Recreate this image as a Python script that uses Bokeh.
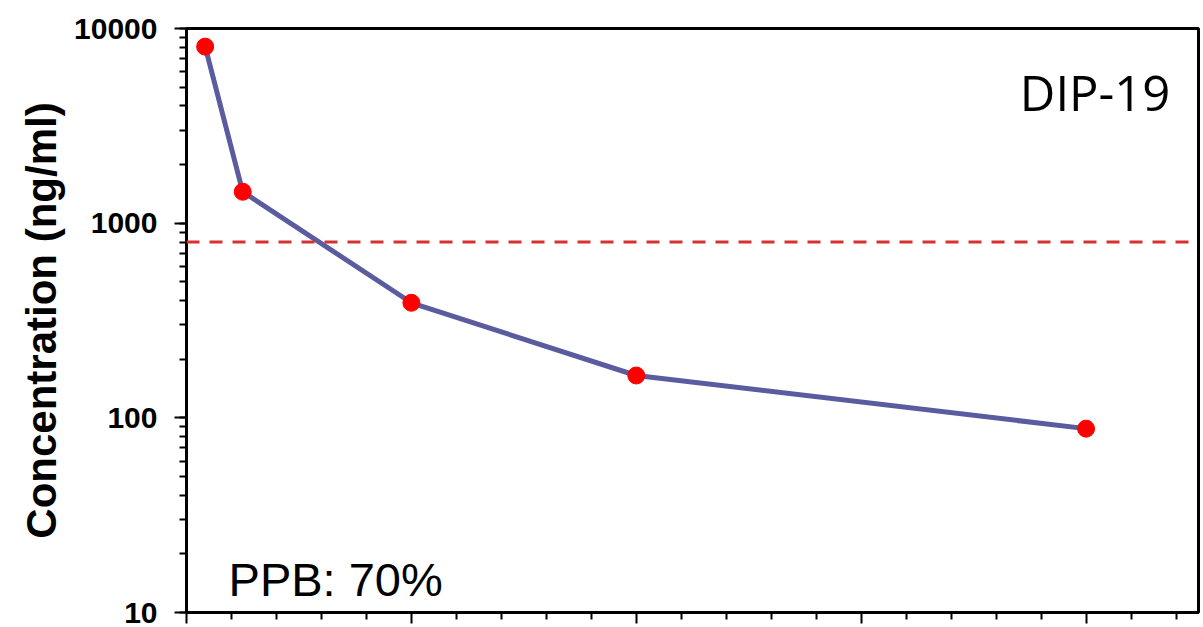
from bokeh.plotting import figure
from bokeh.models import FixedTicker, Span, Label, NumeralTickFormatter
from bokeh.embed import file_html
from bokeh.resources import INLINE

# Data
times_h = [0.083, 0.25, 1, 2, 4]
conc_ng_ml = [8070, 1450, 390, 165, 88]
threshold = 800
x_major = [0, 1, 2, 3, 4]
x_minor = [round(0.2 * i, 1) for i in range(1, 23) if i % 5 != 0]
y_label = "Concentration (ng/ml)"
compound = "DIP-19"
ppb_text = "PPB: 70%"

p = figure(width=1203, height=627, y_axis_type="log",
           x_range=(0, 4.5), y_range=(10, 10000),
           output_backend="svg", toolbar_location=None,
           min_border_left=186, min_border_right=5,
           min_border_top=28, min_border_bottom=15)

p.xgrid.visible = False
p.ygrid.visible = False
p.background_fill_color = "white"
p.border_fill_color = "white"
p.outline_line_color = "black"
p.outline_line_width = 3

# x axis: ticks only
xa = p.xaxis[0]
xa.ticker = FixedTicker(ticks=x_major, minor_ticks=x_minor)
xa.major_label_overrides = {v: "" for v in x_major}
xa.major_label_text_font_size = "1px"
xa.major_label_standoff = 0
xa.axis_line_width = 3
xa.axis_line_color = "black"
xa.major_tick_in = 0
xa.major_tick_out = 11
xa.minor_tick_in = 0
xa.minor_tick_out = 7
xa.major_tick_line_width = 2
xa.minor_tick_line_width = 2

ya = p.yaxis[0]
ya.formatter = NumeralTickFormatter(format="0")
ya.axis_label = y_label
ya.axis_label_text_font = "Liberation Sans"
ya.axis_label_text_font_style = "bold"
ya.axis_label_text_font_size = "42px"
ya.axis_label_text_color = "black"
ya.axis_label_standoff = 6
ya.major_label_text_font = "Liberation Sans"
ya.major_label_text_font_style = "bold"
ya.major_label_text_font_size = "30px"
ya.major_label_text_color = "black"
ya.major_label_standoff = 17
ya.axis_line_width = 3
ya.axis_line_color = "black"
ya.major_tick_in = 0
ya.major_tick_out = 12
ya.minor_tick_in = 0
ya.minor_tick_out = 7
ya.major_tick_line_width = 2
ya.minor_tick_line_width = 2

# threshold line
p.add_layout(Span(location=threshold, dimension="width", line_color="#d63030",
                  line_width=3, line_dash="13 10"))

p.line(times_h, conc_ng_ml, line_color="#5b5c9f", line_width=5)
p.scatter(times_h, conc_ng_ml, size=17, fill_color="#ff0000", line_color="#ff0000")

p.add_layout(Label(x=0.187, y=14.8, text=ppb_text, text_font="Liberation Sans",
                   text_font_size="47px", text_color="black",
                   text_baseline="alphabetic", text_align="left"))
p.add_layout(Label(x=4.375, y=4730, text=compound, text_font="Open Sans",
                   text_font_size="49px", text_color="black",
                   text_baseline="alphabetic", text_align="right"))

open("out.html", "w").write(file_html(p, INLINE))
